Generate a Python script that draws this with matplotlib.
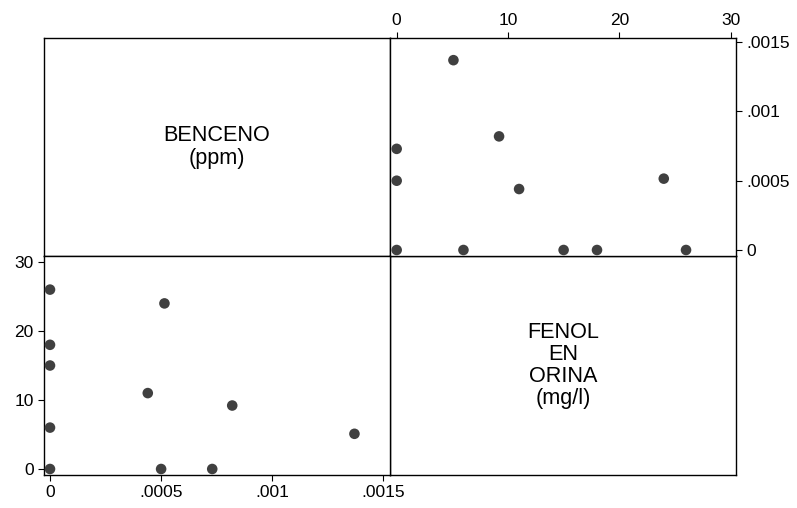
import matplotlib.pyplot as plt

plt.rcParams.update({
    'font.family': ['Liberation Sans', 'DejaVu Sans'],
    'font.size': 12.5,
    'axes.linewidth': 1.0,
})

# datos (benceno en ppm, fenol en orina en mg/l)
benceno = [0, 0, 0, 0, 0, 0.00044, 0.000515, 0.0005, 0.00073, 0.00082, 0.00137]
fenol = [26, 18, 15, 6, 0, 11, 24, 0, 0, 9.2, 5.1]
labels = ['BENCENO\n(ppm)', 'FENOL\nEN\nORINA\n(mg/l)']

ben_ticks = [0, 0.0005, 0.001, 0.0015]
ben_ticklabels = ['0', '.0005', '.001', '.0015']
fen_ticks = [0, 10, 20, 30]
fen_ticklabels = ['0', '10', '20', '30']

W, H = 797, 508
fig = plt.figure(figsize=(W / 100, H / 100), dpi=100)

x0, x1, x2 = 44, 390, 736
y0, y1, y2 = 38, 256, 475

def box(l, t, r, b):
    return [l / W, 1 - b / H, (r - l) / W, (b - t) / H]

ben_lim = (-0.000027, 0.00153)
fen_lim = (-0.87, 30.87)
mcolor = '#404040'

# celda superior izquierda: etiqueta
ax = fig.add_axes(box(x0, y0, x1, y1))
ax.set_xticks([]); ax.set_yticks([])
ax.text(0.5, 0.5, labels[0], ha='center', va='center', transform=ax.transAxes,
        fontsize=15.6, linespacing=1.07)

# celda inferior derecha: etiqueta
ax = fig.add_axes(box(x1, y1, x2, y2))
ax.set_xticks([]); ax.set_yticks([])
ax.text(0.5, 0.5, labels[1], ha='center', va='center', transform=ax.transAxes,
        fontsize=15.6, linespacing=1.07)

# celda superior derecha: x = fenol, y = benceno
ax = fig.add_axes(box(x1, y0, x2, y1))
ax.scatter(fenol, benceno, s=58, color=mcolor, edgecolors='none', zorder=3, clip_on=False)
ax.set_xlim(-0.6, 30.49)
ax.set_ylim(-0.0000433, 0.00153)
ax.xaxis.tick_top()
ax.yaxis.tick_right()
ax.set_xticks(fen_ticks)
ax.set_xticklabels(fen_ticklabels)
ax.set_yticks(ben_ticks)
ax.set_yticklabels(ben_ticklabels)
ax.tick_params(direction='out', length=4.5, width=0.8, pad=3)

# celda inferior izquierda: x = benceno, y = fenol
ax = fig.add_axes(box(x0, y1, x1, y2))
ax.scatter(benceno, fenol, s=58, color=mcolor, edgecolors='none', zorder=3, clip_on=False)
ax.set_xlim(ben_lim)
ax.set_ylim(fen_lim)
ax.set_xticks(ben_ticks)
ax.set_xticklabels(ben_ticklabels)
ax.set_yticks(fen_ticks)
ax.set_yticklabels(fen_ticklabels)
ax.tick_params(direction='out', length=4.5, width=0.8, pad=3)

fig.savefig('out.png', dpi=100, facecolor='white')
